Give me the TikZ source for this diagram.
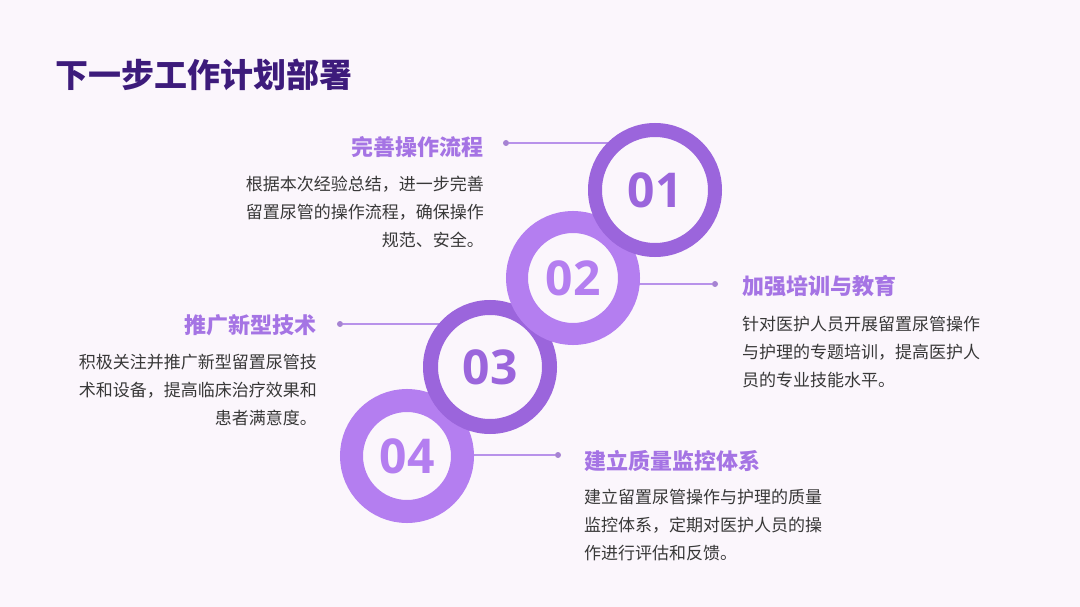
\documentclass[tikz,border=0pt]{standalone}
\usepackage{fontspec}
\newfontfamily\cjk{Noto Sans CJK SC}
\newfontfamily\numfont{Open Sans}
\definecolor{bgpink}{HTML}{FBF6FC}
\definecolor{titlepurple}{HTML}{3D1B7B}
\definecolor{ringdark}{HTML}{9B65DC}
\definecolor{ringlight}{HTML}{B47EF0}
\definecolor{headpurple}{HTML}{A574E4}
\definecolor{bodygray}{HTML}{383838}
\definecolor{linkpurple}{HTML}{B892EA}
\pgfdeclarelayer{back}
\pgfsetlayers{back,main}
\tikzset{
  ringnode/.style={circle,inner sep=0pt,fill=bgpink,
    font=\numfont\bfseries\fontsize{48}{48}\selectfont},
  heading/.style={inner sep=0pt,text=headpurple,
    font=\cjk\bfseries\fontsize{22}{26}\selectfont},
  bodytext/.style={inner sep=0pt,text=bodygray,
    font=\cjk\fontsize{17}{28}\selectfont},
  dotnode/.style={circle,fill=linkpurple!90!black,inner sep=0pt,minimum size=6pt},
  link/.style={draw=linkpurple,line width=1.5pt}
}

\begin{document}
\begin{tikzpicture}[x=1pt,y=-1pt]
\useasboundingbox (0,0) rectangle (1080,607);

% title
\node[anchor=west,inner sep=0pt,text=titlepurple,
  font=\cjk\bfseries\fontsize{33}{36}\selectfont] (title) at (55,75) {下一步工作计划部署};

% circles, back to front
\node[ringnode,draw=ringlight,line width=23pt,minimum size=111pt,text=ringlight] (c4) at (407,456) {04};
\node[ringnode,draw=ringdark,line width=15pt,minimum size=119pt,text=ringdark] (c3) at (490,367) {03};
\node[ringnode,draw=ringlight,line width=22pt,minimum size=112pt,text=ringlight] (c2) at (573,278) {02};
\node[ringnode,draw=ringdark,line width=14pt,minimum size=120pt,text=ringdark] (c1) at (655,190) {01};

% dots
\foreach \n/\x/\y in {1/506/143,2/715/284,3/340/324,4/558/455}
  \node[dotnode] (d\n) at (\x,\y) {};

% headings and texts
\node[heading,anchor=east] (h1) at (484,147) {完善操作流程};
\node[bodytext,anchor=east,align=right] (b1) at (484,212)
  {根据本次经验总结，进一步完善\\留置尿管的操作流程，确保操作\\规范、安全。};

\node[heading,anchor=west] (h2) at (742,286) {加强培训与教育};
\node[bodytext,anchor=west,align=left] (b2) at (742,352)
  {针对医护人员开展留置尿管操作\\与护理的专题培训，提高医护人\\员的专业技能水平。};

\node[heading,anchor=east] (h3) at (317,325) {推广新型技术};
\node[bodytext,anchor=east,align=right] (b3) at (317,390)
  {积极关注并推广新型留置尿管技\\术和设备，提高临床治疗效果和\\患者满意度。};

\node[heading,anchor=west] (h4) at (584,461) {建立质量监控体系};
\node[bodytext,anchor=west,align=left] (b4) at (584,525)
  {建立留置尿管操作与护理的质量\\监控体系，定期对医护人员的操\\作进行评估和反馈。};

% background and links
\begin{pgfonlayer}{back}
\fill[bgpink] (0,0) rectangle (1080,607);
\foreach \n in {1,...,4}
  \draw[link] (d\n) -- (d\n -| c\n);
\end{pgfonlayer}
\end{tikzpicture}
\end{document}
